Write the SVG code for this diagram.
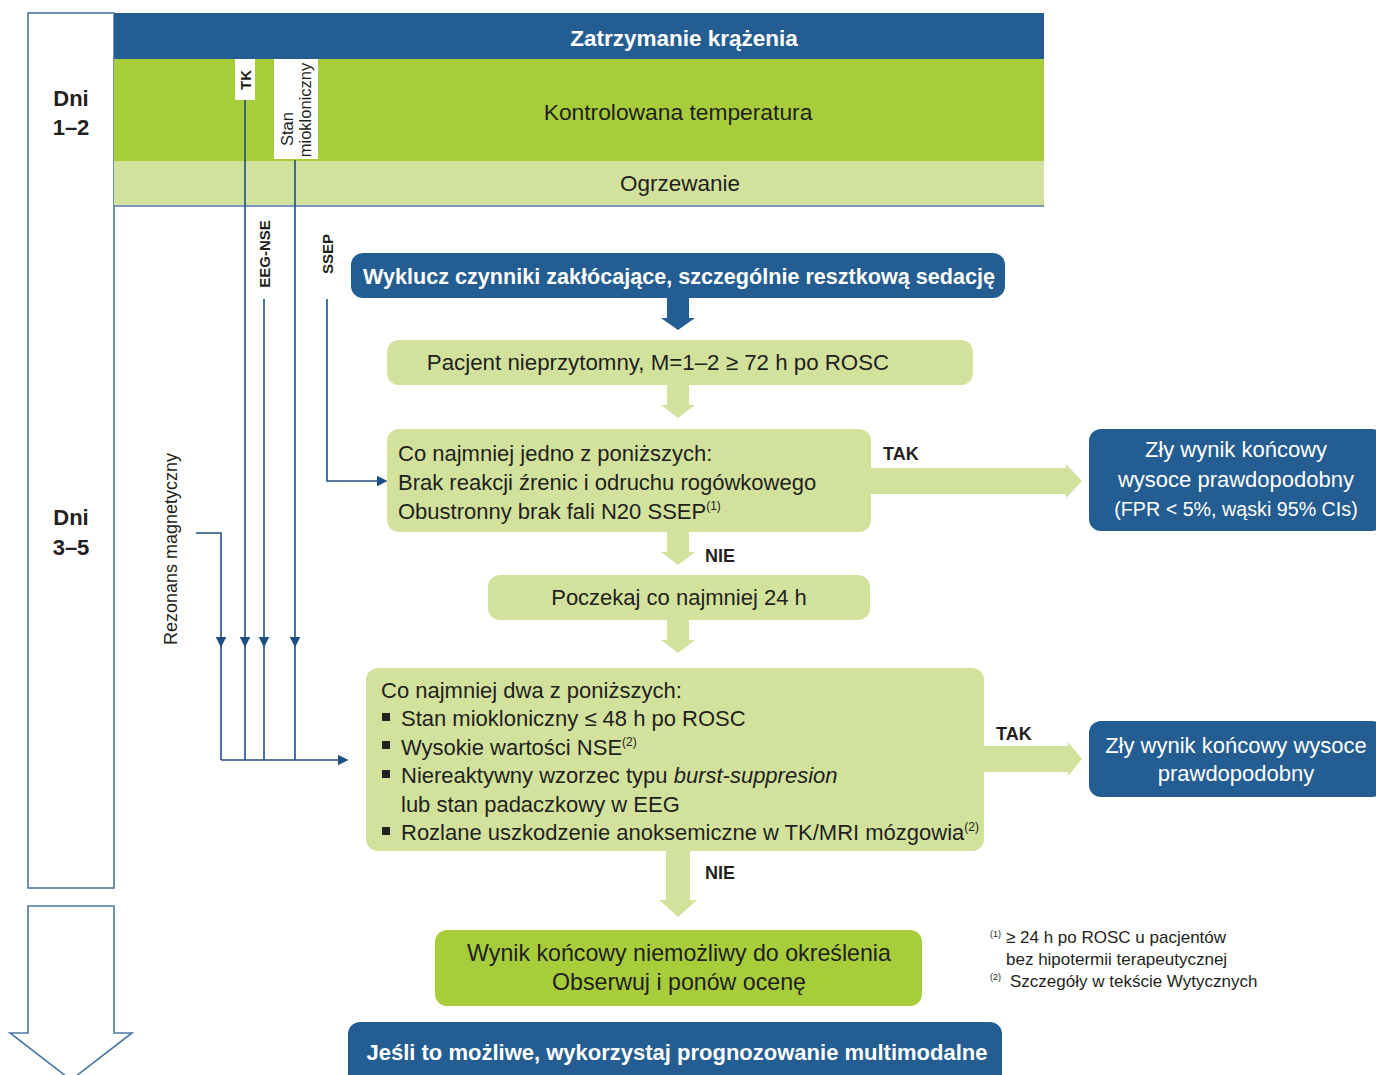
<svg xmlns="http://www.w3.org/2000/svg" width="1376" height="1075" viewBox="0 0 1376 1075">
<defs>
<style>
text{font-family:"Liberation Sans","Open Sans",sans-serif;fill:#231f20}
.w{fill:#fff}
.b{font-weight:bold}
.dk{fill:#245d91}
.lg{fill:#d2e29c}
.mg{fill:#a8cd3a}
.ln{stroke:#1f4f82;stroke-width:1.6;fill:none}
.frame{stroke:#4a78a6;stroke-width:1.6;fill:#fff}
.t21{font-size:22px}
.lbl{font-size:15px;font-weight:bold}
</style>
<marker id="ahs" viewBox="0 0 10 10" refX="5" refY="5" markerWidth="11" markerHeight="11" markerUnits="userSpaceOnUse" orient="auto">
<path d="M0,0 L10,5 L0,10 z" fill="#1f4f82"/>
</marker>
</defs>
<rect width="1376" height="1075" fill="#fff"/>

<g id="timeline">
<rect class="frame" x="28" y="13" width="86" height="875"/>
<line x1="114" y1="206" x2="1044" y2="206" stroke="#4a78a6" stroke-width="1.6"/>
<text x="71" y="106" class="b" font-size="22" text-anchor="middle">Dni</text>
<text x="71" y="135" class="b" font-size="22" text-anchor="middle">1–2</text>
<text x="71" y="525" class="b" font-size="22" text-anchor="middle">Dni</text>
<text x="71" y="555" class="b" font-size="22" text-anchor="middle">3–5</text>
<path d="M28,906 H114 V1033 H132 L71,1080 L10,1033 H28 Z" fill="#fff" stroke="#4a78a6" stroke-width="1.6"/>
</g>

<g id="band-top">
<rect class="dk" x="114" y="13" width="930" height="46"/>
<text x="684" y="46" class="w b" font-size="22.5" text-anchor="middle">Zatrzymanie krążenia</text>
</g>
<g id="band-temp">
<rect class="mg" x="114" y="59" width="930" height="102"/>
<text x="678" y="120" font-size="22.8" text-anchor="middle">Kontrolowana temperatura</text>
</g>
<g id="band-warm">
<rect class="lg" x="114" y="161" width="930" height="44"/>
<text x="680" y="191" font-size="22.5" text-anchor="middle">Ogrzewanie</text>
</g>

<g id="label-tk">
<rect x="235" y="59" width="20" height="41" fill="#fff"/>
<text transform="translate(251,80) rotate(-90)" class="lbl" text-anchor="middle">TK</text>
</g>
<g id="label-stan">
<rect x="274" y="59" width="44" height="100" fill="#fff"/>
<text transform="translate(293,129) rotate(-90)" font-size="16.5" text-anchor="middle">Stan</text>
<text transform="translate(311,110) rotate(-90)" font-size="16.5" text-anchor="middle">miokloniczny</text>
</g>
<g id="label-eeg">
<text transform="translate(270,254) rotate(-90)" class="lbl" text-anchor="middle">EEG-NSE</text>
</g>
<g id="label-ssep">
<text transform="translate(333,254) rotate(-90)" class="lbl" text-anchor="middle">SSEP</text>
</g>
<g id="label-mri">
<text transform="translate(177,549) rotate(-90)" font-size="18" text-anchor="middle">Rezonans magnetyczny</text>
</g>

<g id="connectors">
<line class="ln" x1="245" y1="100" x2="245" y2="760"/>
<line class="ln" x1="295" y1="160" x2="295" y2="760"/>
<line class="ln" x1="264" y1="299" x2="264" y2="760"/>
<polyline class="ln" points="196,533 221,533 221,760"/>
<line class="ln" x1="221" y1="640" x2="221" y2="642" marker-end="url(#ahs)"/>
<line class="ln" x1="245" y1="640" x2="245" y2="642" marker-end="url(#ahs)"/>
<line class="ln" x1="264" y1="640" x2="264" y2="642" marker-end="url(#ahs)"/>
<line class="ln" x1="295" y1="640" x2="295" y2="642" marker-end="url(#ahs)"/>
<polyline class="ln" points="221,760 343,760" marker-end="url(#ahs)"/>
<polyline class="ln" points="327,299 327,481 382,481" marker-end="url(#ahs)"/>
<path class="dk" d="M667,298 H689 V318 H695 L678,330 L661,318 H667 Z"/>
<path class="lg" d="M667,385 H689 V405 H695 L678,418 L661,405 H667 Z"/>
<path class="lg" d="M667,532 H689 V552 H695 L678,565 L661,552 H667 Z"/>
<path class="lg" d="M667,620 H689 V640 H695 L678,653 L661,640 H667 Z"/>
<path class="lg" d="M666,851 H690 V900 H697 L678,917 L659,900 H666 Z"/>
<path class="lg" d="M871,468 H1066 V464 L1082,481 L1066,498 V494 H871 Z"/>
<path class="lg" d="M984,746 H1068 V742 L1082,759 L1068,776 V772 H984 Z"/>
<text x="883" y="460" class="b" font-size="18">TAK</text>
<text x="996" y="740" class="b" font-size="18">TAK</text>
<text x="705" y="562" class="b" font-size="18">NIE</text>
<text x="705" y="879" class="b" font-size="18">NIE</text>
</g>

<g id="node-wyklucz">
<rect class="dk" x="351" y="253" width="654" height="45" rx="12"/>
<text x="679" y="284" class="w b" font-size="21.6" text-anchor="middle">Wyklucz czynniki zakłócające, szczególnie resztkową sedację</text>
</g>
<g id="node-pacjent">
<rect class="lg" x="387" y="340" width="586" height="45" rx="12"/>
<text x="658" y="370" font-size="22.3" text-anchor="middle">Pacjent nieprzytomny, M=1–2 ≥ 72 h po ROSC</text>
</g>
<g id="node-jedno">
<rect class="lg" x="387" y="429" width="484" height="103" rx="12"/>
<text x="398" y="461" class="t21">Co najmniej jedno z poniższych:</text>
<text x="398" y="490" class="t21">Brak reakcji źrenic i odruchu rogówkowego</text>
<text x="398" y="519" class="t21">Obustronny brak fali N20 SSEP<tspan font-size="12" dy="-9">(1)</tspan></text>
</g>
<g id="node-zly1">
<rect class="dk" x="1089" y="429" width="295" height="102" rx="12"/>
<text x="1236" y="457" class="w t21" text-anchor="middle">Zły wynik końcowy</text>
<text x="1236" y="487" class="w t21" text-anchor="middle">wysoce prawdopodobny</text>
<text x="1236" y="516" class="w" font-size="19.7" text-anchor="middle">(FPR &lt; 5%, wąski 95% CIs)</text>
</g>
<g id="node-poczekaj">
<rect class="lg" x="488" y="575" width="382" height="45" rx="12"/>
<text x="679" y="605" class="t21" text-anchor="middle">Poczekaj co najmniej 24 h</text>
</g>
<g id="node-dwa">
<rect class="lg" x="366" y="668" width="618" height="183" rx="12"/>
<text x="381" y="698" class="t21">Co najmniej dwa z poniższych:</text>
<rect x="382" y="713" width="8" height="8" fill="#231f20"/>
<text x="401" y="726" class="t21">Stan miokloniczny ≤ 48 h po ROSC</text>
<rect x="382" y="741" width="8" height="8" fill="#231f20"/>
<text x="401" y="755" class="t21">Wysokie wartości NSE<tspan font-size="12" dy="-9">(2)</tspan></text>
<rect x="382" y="770" width="8" height="8" fill="#231f20"/>
<text x="401" y="783" class="t21">Niereaktywny wzorzec typu <tspan font-style="italic">burst-suppresion</tspan></text>
<text x="401" y="812" class="t21">lub stan padaczkowy w EEG</text>
<rect x="382" y="827" width="8" height="8" fill="#231f20"/>
<text x="401" y="840" class="t21">Rozlane uszkodzenie anoksemiczne w TK/MRI mózgowia<tspan font-size="12" dy="-9">(2)</tspan></text>
</g>
<g id="node-zly2">
<rect class="dk" x="1089" y="721" width="295" height="76" rx="12"/>
<text x="1236" y="753" class="w t21" text-anchor="middle">Zły wynik końcowy wysoce</text>
<text x="1236" y="781" class="w t21" text-anchor="middle">prawdopodobny</text>
</g>
<g id="node-wynik">
<rect class="mg" x="435" y="930" width="487" height="76" rx="12"/>
<text x="679" y="961" font-size="23.2" text-anchor="middle">Wynik końcowy niemożliwy do określenia</text>
<text x="679" y="990" font-size="23.2" text-anchor="middle">Obserwuj i ponów ocenę</text>
</g>
<g id="node-jesli">
<rect class="dk" x="348" y="1022" width="654" height="70" rx="12"/>
<text x="677" y="1060" class="w b" font-size="22" text-anchor="middle">Jeśli to możliwe, wykorzystaj prognozowanie multimodalne</text>
</g>
<g id="footnotes">
<text x="990" y="937" font-size="9">(1)</text>
<text x="1006" y="943" font-size="17">≥ 24 h po ROSC u pacjentów</text>
<text x="1006" y="965" font-size="17">bez hipotermii terapeutycznej</text>
<text x="990" y="980" font-size="9">(2)</text>
<text x="1010" y="987" font-size="17">Szczegóły w tekście Wytycznych</text>
</g>
</svg>
